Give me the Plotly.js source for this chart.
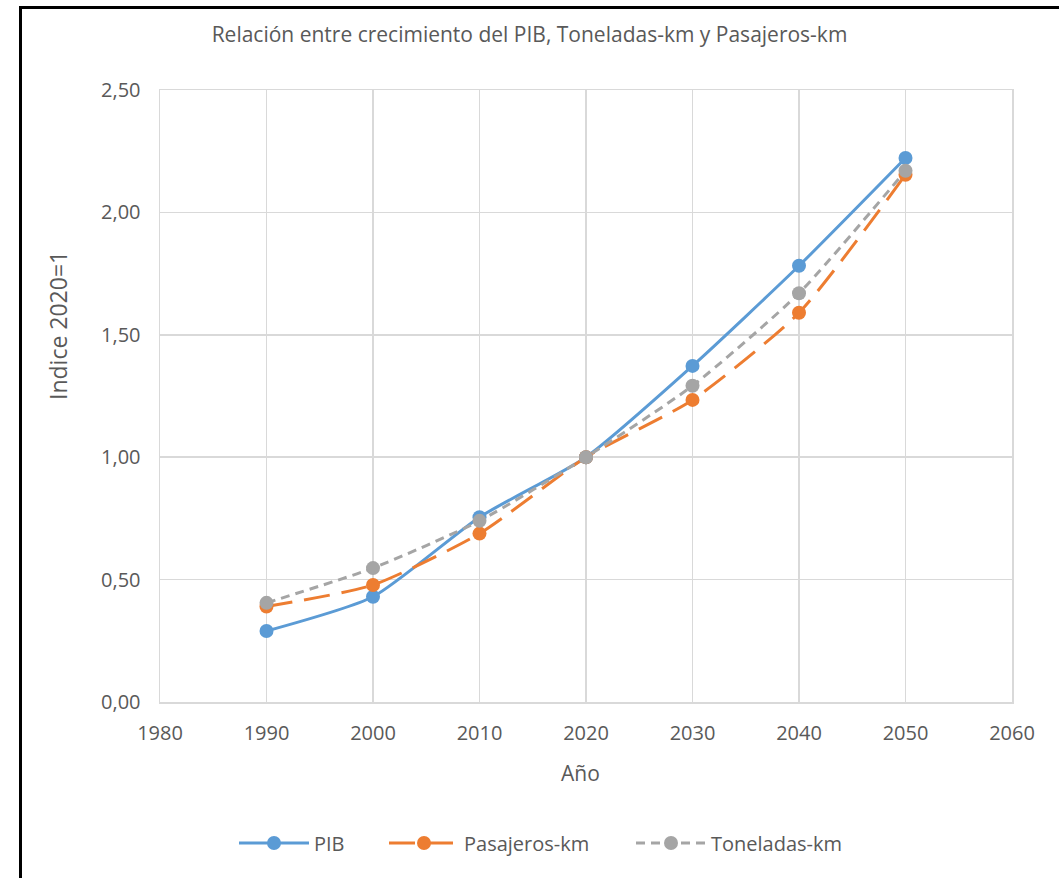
<!DOCTYPE html>
<html>
<head>
<meta charset="utf-8">
<script src="https://cdn.plot.ly/plotly-3.0.1.min.js"></script>
<style>
html,body{margin:0;padding:0;background:#fff;overflow:hidden;}
#chart{width:1059px;height:878px;position:absolute;left:0;top:0;}
#frame{position:absolute;left:19px;top:6px;width:1100px;height:1000px;border:3px solid #000;box-sizing:border-box;pointer-events:none;}
</style>
</head>
<body>
<div id="chart"></div>
<div id="frame"></div>
<script>
const years = [1990, 2000, 2010, 2020, 2030, 2040, 2050];
const pib = [0.29, 0.43, 0.755, 1.00, 1.373, 1.782, 2.222];
const pasajeros = [0.39, 0.478, 0.688, 1.00, 1.234, 1.590, 2.154];
const toneladas = [0.405, 0.547, 0.740, 1.00, 1.292, 1.670, 2.170];

const titleText = 'Relación entre crecimiento del PIB, Toneladas-km y Pasajeros-km';
const xTitle = 'Año';
const yTitle = 'Indice 2020=1';

const txt = '#595959';
const fam = '"Open Sans", Calibri, sans-serif';

const traces = [
  {x: years, y: pib, name: 'PIB', type: 'scatter', mode: 'lines+markers', legend: 'legend',
   line: {color: '#5b9bd5', width: 3, shape: 'spline', smoothing: 0.6},
   marker: {color: '#5b9bd5', size: 14}},
  {x: years, y: pasajeros, name: 'Pasajeros-km', type: 'scatter', mode: 'lines+markers', legend: 'legend2',
   line: {color: '#ed7d31', width: 3, shape: 'spline', smoothing: 0.6, dash: '26px,12px'},
   marker: {color: '#ed7d31', size: 14}},
  {x: years, y: toneladas, name: 'Toneladas-km', type: 'scatter', mode: 'lines+markers', legend: 'legend3',
   line: {color: '#a5a5a5', width: 3, shape: 'spline', smoothing: 0.6, dash: '9px,6px'},
   marker: {color: '#a5a5a5', size: 14}}
];

function leg(px) {
  return {orientation: 'h', xref: 'container', yref: 'container', x: px / 1059, xanchor: 'left',
          y: 1 - 843 / 878, yanchor: 'middle',
          font: {family: fam, size: 20, color: txt}, itemwidth: 70, bgcolor: 'rgba(0,0,0,0)'};
}

const layout = {
  width: 1059, height: 878,
  margin: {l: 160, r: 47, t: 90, b: 176},
  paper_bgcolor: '#ffffff', plot_bgcolor: '#ffffff',
  separators: ',.',
  font: {family: fam, color: txt, size: 16},
  title: {text: titleText, x: 0.5, xref: 'container', y: 1 - 35/878, yref: 'container', yanchor: 'middle',
          font: {family: fam, size: 21, color: txt}},
  xaxis: {range: [1980, 2060], dtick: 10, tick0: 1980, showgrid: true, gridcolor: '#d9d9d9', gridwidth: 1.5,
          zeroline: false, showline: true, linecolor: '#d9d9d9', linewidth: 1.5, mirror: true,
          ticks: '', tickfont: {family: fam, size: 20, color: txt}, ticklabelstandoff: 12},
  yaxis: {range: [0, 2.5], dtick: 0.5, tick0: 0, tickformat: '.2f', showgrid: true, gridcolor: '#d9d9d9', gridwidth: 1.5,
          zeroline: false, showline: true, linecolor: '#d9d9d9', linewidth: 1.5, mirror: true,
          ticks: '', tickfont: {family: fam, size: 20, color: txt}, ticklabelstandoff: 14},
  showlegend: true,
  legend: leg(234),
  legend2: leg(384),
  legend3: leg(631),
  annotations: [
    {text: xTitle, xref: 'paper', yref: 'paper', x: (580 - 160) / 852, y: (702 - 773) / 612,
     xanchor: 'center', yanchor: 'middle', showarrow: false, font: {family: fam, size: 21, color: txt}},
    {text: yTitle, xref: 'paper', yref: 'paper', x: (58 - 160) / 852, y: (702 - 326) / 612,
     xanchor: 'center', yanchor: 'middle', textangle: -90, showarrow: false, font: {family: fam, size: 23, color: txt}}
  ]
};

Plotly.newPlot('chart', traces, layout, {displayModeBar: false, staticPlot: true});
</script>
</body>
</html>
